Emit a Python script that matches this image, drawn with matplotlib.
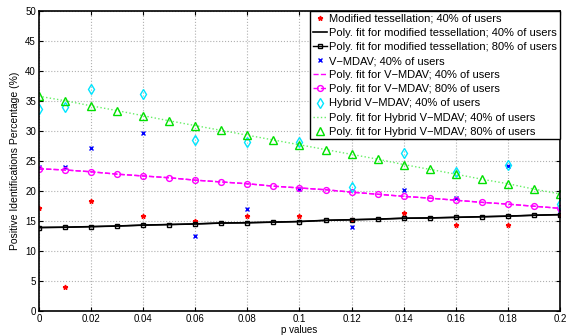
import matplotlib

matplotlib.use("Agg")
import matplotlib.pyplot as plt  # noqa: E402

plt.rcParams["font.family"] = ["Liberation Sans", "DejaVu Sans"]

# sample points for the 40% scatter series
p_sparse = [0, 0.01, 0.02, 0.04, 0.06, 0.08, 0.10, 0.12, 0.14, 0.16, 0.18, 0.20]
tess_40 = [17.1, 3.9, 18.3, 15.8, 15.05, 15.8, 15.8, 15.2, 16.4, 14.4, 14.4, 16.0]
vmdav_40 = [24.05, 24.0, 27.2, 29.6, 12.5, 17.0, 20.3, 14.05, 20.2, 18.8, 24.2, 16.8]
hybrid_40 = [33.7, 34.05, 37.05, 36.2, 28.55, 28.2, 28.2, 20.7, 26.3, 23.2, 24.4, 17.8]

# dense p grid for fitted curves
p_dense = [0, 0.01, 0.02, 0.03, 0.04, 0.05, 0.06, 0.07, 0.08, 0.09, 0.10,
           0.11, 0.12, 0.13, 0.14, 0.15, 0.16, 0.17, 0.18, 0.19, 0.20]
tess_fit_80 = [13.9, 13.95, 14.05, 14.15, 14.3, 14.4, 14.5, 14.65, 14.7, 14.8, 14.9,
               15.1, 15.2, 15.3, 15.45, 15.5, 15.6, 15.7, 15.8, 15.95, 16.05]
vmdav_fit_80 = [23.7, 23.5, 23.2, 22.8, 22.5, 22.2, 21.8, 21.5, 21.2, 20.8, 20.5,
                20.2, 19.8, 19.45, 19.1, 18.8, 18.45, 18.1, 17.8, 17.45, 17.1]
hybrid_fit_80 = [35.8, 35.05, 34.2, 33.4, 32.55, 31.7, 30.9, 30.1, 29.3, 28.5, 27.7,
                 26.9, 26.1, 25.3, 24.4, 23.6, 22.8, 21.95, 21.2, 20.3, 19.5]
# the 40% fit curves sit on top of the 80% ones
tess_fit_40 = tess_fit_80
vmdav_fit_40 = vmdav_fit_80
hybrid_fit_40 = hybrid_fit_80

xticks = [0, 0.02, 0.04, 0.06, 0.08, 0.1, 0.12, 0.14, 0.16, 0.18, 0.2]
xtick_labels = ["0", "0.02", "0.04", "0.06", "0.08", "0.1", "0.12", "0.14", "0.16", "0.18", "0.2"]

fig = plt.figure(figsize=(5.71, 3.35), dpi=100)
ax = fig.add_axes([0.068, 0.072, 0.913, 0.895])

ax.plot(p_sparse, tess_40, ls="none", marker="*", ms=3.5, color="red",
        label="Modified tessellation; 40% of users")
ax.plot(p_dense, tess_fit_40, "-", color="black", lw=1.2,
        label="Poly. fit for modified tessellation; 40% of users")
ax.plot(p_dense, tess_fit_80, "-", color="black", lw=1.0, marker="s", ms=3.5, mfc="none",
        label="Poly. fit for modified tessellation; 80% of users")
ax.plot(p_sparse, vmdav_40, ls="none", marker="x", ms=3.5, mew=1.0, color="blue",
        label="V\u2212MDAV; 40% of users")
ax.plot(p_dense, vmdav_fit_40, "--", color="magenta", lw=1.0,
        label="Poly. fit for V\u2212MDAV; 40% of users")
ax.plot(p_dense, vmdav_fit_80, "--", color="magenta", lw=1.0, marker="o", ms=4.2, mfc="none",
        label="Poly. fit for V\u2212MDAV; 80% of users")
ax.plot(p_sparse, hybrid_40, ls="none", marker="d", ms=5, mfc="none", color="#00e5ff",
        label="Hybrid V\u2212MDAV; 40% of users")
ax.plot(p_dense, hybrid_fit_40, ":", color="#66ee66", lw=1.0,
        label="Poly. fit for Hybrid V\u2212MDAV; 40% of users")
ax.plot(p_dense, hybrid_fit_80, ls="none", marker="^", ms=5.2, mfc="none", color="#00e000",
        label="Poly. fit for Hybrid V\u2212MDAV; 80% of users")

ax.set_xlim(0, 0.2)
ax.set_ylim(0, 50)
ax.set_xticks(xticks)
ax.set_xticklabels(xtick_labels)
ax.set_yticks(range(0, 51, 5))
ax.tick_params(direction="in", labelsize=7, length=3, top=True, right=True, pad=2)
ax.grid(True, ls=":", color="#b0b0b0", lw=0.8)
for s in ax.spines.values():
    s.set_linewidth(1.2)

ax.set_xlabel("p values", fontsize=7, labelpad=1)
ax.set_ylabel("Positive Identifications Percentage (%)", fontsize=7.5, labelpad=4)

leg = ax.legend(loc="upper right", fontsize=8, frameon=True, fancybox=False,
                edgecolor="black", framealpha=1, borderaxespad=0, handlelength=1.3,
                handletextpad=0.2, labelspacing=0.37, borderpad=0.25)
leg.get_frame().set_linewidth(1.0)

fig.savefig("out.png", dpi=100)
plt.close(fig)
